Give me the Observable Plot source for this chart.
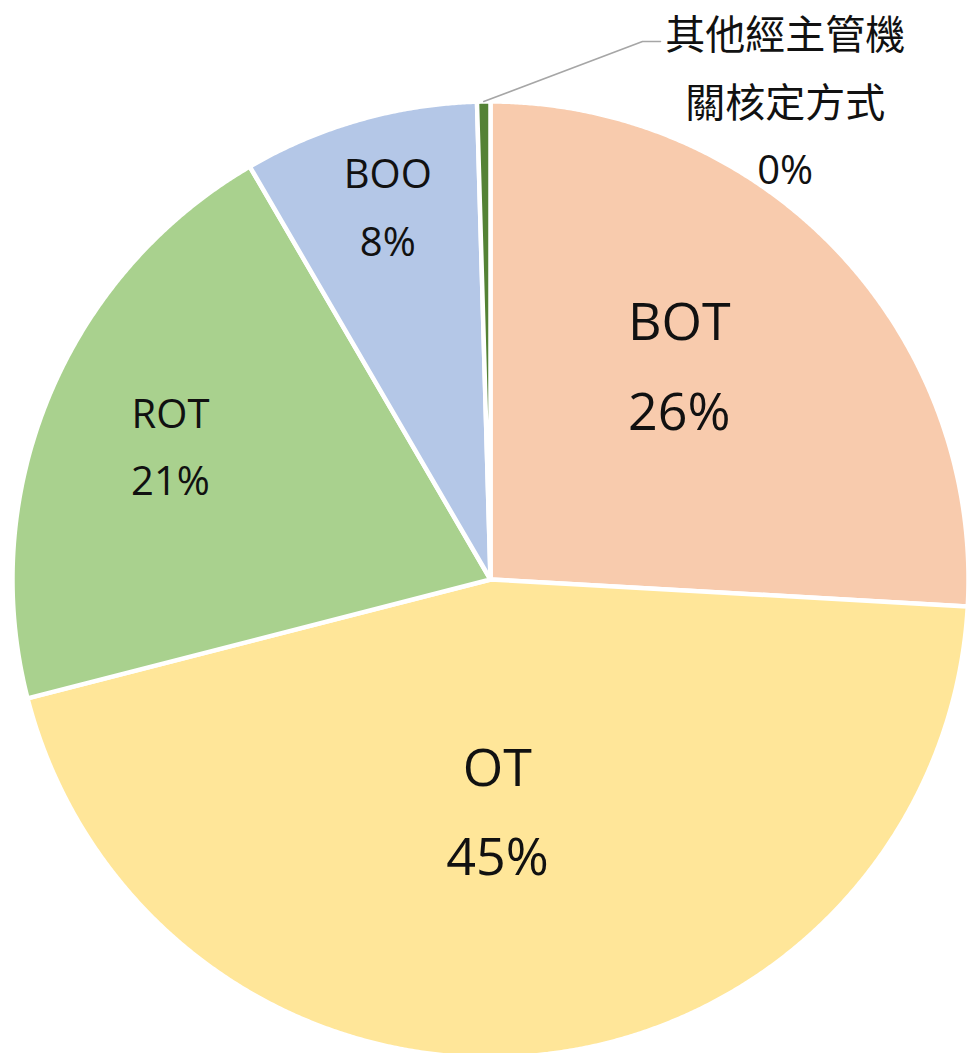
<!DOCTYPE html>
<html>
<head>
<meta charset="utf-8">
<script src="https://cdn.jsdelivr.net/npm/d3@7"></script>
<script src="https://cdn.jsdelivr.net/npm/@observablehq/plot@0.6"></script>
<style>
  html, body { margin: 0; padding: 0; background: #ffffff; }
  #chart svg { display: block; }
</style>
</head>
<body>
<div id="chart"></div>
<script>
// ---- data ----
const categories = ["BOT", "OT", "ROT", "BOO", "其他經主管機\n關核定方式"];
const values = [25.9, 45.1, 20.6, 7.95, 0.45];   // percent share, clockwise from 12 o'clock
const colors = ["#F8CBAD", "#FFE699", "#A9D18E", "#B4C7E7", "#548235"];

// ---- label layout (polar: angle in degrees clockwise from top, radius as fraction of pie radius) ----
const labelAngle = [41.5, 178.3, 292.2, 344.5, 31.8];
const labelRadius = [0.596, 0.486, 0.723, 0.804, 1.170];
const labelSize = [52, 52, 40, 40, 40];
// leader for the outside label: elbow and end, in pie-radius units
const leaderElbow = [0.318, 1.1255];
const leaderEnd = [0.3556, 1.1255];

// ---- geometry ----
const W = 967, H = 1053, R = 478, CX = 490, CY = 579;
const total = d3.sum(values);
const toXY = (deg, r) => {
  const a = deg * Math.PI / 180;
  return {x: r * Math.sin(a), y: r * Math.cos(a)};
};

const slices = [];
let acc = 0;
values.forEach((v, i) => {
  const a0 = acc / total * 360;
  acc += v;
  const a1 = acc / total * 360;
  const pts = [{x: 0, y: 0}];
  const n = Math.max(2, Math.ceil((a1 - a0) / 0.25));
  for (let k = 0; k <= n; k++) pts.push(toXY(a0 + (a1 - a0) * k / n, 1));
  slices.push({name: categories[i], color: colors[i], pts, a0, a1, mid: (a0 + a1) / 2});
});

const labels = categories.map((c, i) => {
  const p = toXY(labelAngle[i], labelRadius[i]);
  return {x: p.x, y: p.y, text: c + "\n" + Math.round(values[i] / total * 100) + "%", size: labelSize[i]};
});

const other = slices[4];
const start = toXY(other.mid, 1.0);
const leader = [start, {x: leaderElbow[0], y: leaderElbow[1]}, {x: leaderEnd[0], y: leaderEnd[1]}];

const font = "'Open Sans', 'Noto Sans CJK TC', sans-serif";

const marks = [];
slices.forEach(s => {
  marks.push(Plot.line(s.pts, {x: "x", y: "y", curve: "linear-closed", fill: s.color, stroke: "#ffffff", strokeWidth: 4.5, strokeLinejoin: "round"}));
});
marks.push(Plot.line(leader, {x: "x", y: "y", stroke: "#A6A6A6", strokeWidth: 1.6}));
marks.push(Plot.text(labels.filter(d => d.size === 52), {x: "x", y: "y", text: "text", fontSize: 52, lineHeight: 1.73, fill: "#111111", textAnchor: "middle", lineAnchor: "middle", dy: -10}));
marks.push(Plot.text(labels.filter(d => d.size === 40), {x: "x", y: "y", text: "text", fontSize: 40, lineHeight: 1.69, fill: "#111111", textAnchor: "middle", lineAnchor: "middle", dy: -9}));

const chart = Plot.plot({
  width: W,
  height: H,
  margin: 0,
  style: {fontFamily: font, background: "#ffffff"},
  x: {domain: [-CX / R, (W - CX) / R], axis: null},
  y: {domain: [(CY - H) / R, CY / R], axis: null},
  marks
});
document.getElementById("chart").appendChild(chart);
</script>
</body>
</html>
